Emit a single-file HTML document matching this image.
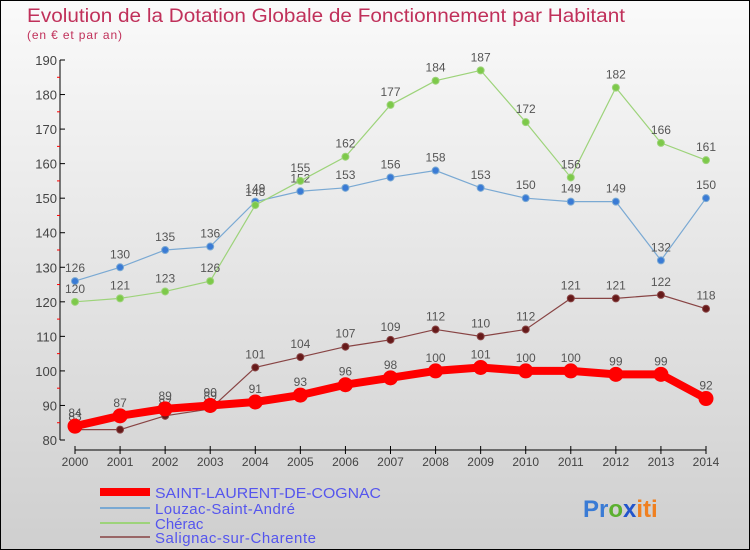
<!DOCTYPE html>
<html><head><meta charset="utf-8"><style>
html,body{margin:0;padding:0}
body{width:750px;height:550px;overflow:hidden;font-family:"Liberation Sans",sans-serif}
#c{position:absolute;left:0;top:0;width:748px;height:548px;border:1px solid #000;background:linear-gradient(#fafafa,#cfcfcf)}
</style></head><body>
<div id="c">
<svg id="s" width="750" height="550" style="position:absolute;left:-1px;top:-1px">
<text x="27" y="22" font-size="19" fill="#c0305a" textLength="598" lengthAdjust="spacingAndGlyphs">Evolution de la Dotation Globale de Fonctionnement par Habitant</text>
<text x="27" y="39" font-size="12" fill="#c0305a" textLength="95">(en € et par an)</text>
<g id="axes"></g><g id="series"></g>
<g>
<rect x="100" y="488" width="50" height="8" fill="#f00"/>
<text x="155" y="498" font-size="15" fill="#5555ee" textLength="226" lengthAdjust="spacingAndGlyphs">SAINT-LAURENT-DE-COGNAC</text>
<line x1="100" y1="508" x2="150" y2="508" stroke="#7aa9d3" stroke-width="2"/>
<text x="155" y="514" font-size="15" fill="#5555ee" textLength="140">Louzac-Saint-André</text>
<line x1="100" y1="523" x2="150" y2="523" stroke="#9dd37a" stroke-width="2"/>
<text x="155" y="529" font-size="15" fill="#5555ee">Chérac</text>
<line x1="100" y1="537" x2="150" y2="537" stroke="#996666" stroke-width="2"/>
<text x="155" y="543" font-size="15" fill="#5555ee" textLength="161">Salignac-sur-Charente</text>
</g>
<text x="583" y="517" font-size="24" font-weight="bold"><tspan fill="#3a7bd5">Pr</tspan><tspan fill="#5bb030">o</tspan><tspan fill="#2255cc">x</tspan><tspan fill="#f08020">iti</tspan></text>
</svg></div>
<script>
const years=[2000,2001,2002,2003,2004,2005,2006,2007,2008,2009,2010,2011,2012,2013,2014];
const saintLaurent=[84,87,89,90,91,93,96,98,100,101,100,100,99,99,92];
const louzac=[126,130,135,136,149,152,153,156,158,153,150,149,149,132,150];
const cherac=[120,121,123,126,148,155,162,177,184,187,172,156,182,166,161];
const salignac=[83,83,87,89,101,104,107,109,112,110,112,121,121,122,118];
const yTicks=[80,90,100,110,120,130,140,150,160,170,180,190];
const NS="http://www.w3.org/2000/svg";
const X=i=>75+i*(706-75)/(years.length-1);
const Y=v=>440-(v-80)*(380/110);
function el(t,a,p){const e=document.createElementNS(NS,t);for(const k in a)e.setAttribute(k,a[k]);p.appendChild(e);return e;}
const ax=document.getElementById('axes');
let l=el('line',{x1:60,y1:60,x2:60,y2:440,stroke:'#000'},ax);


yTicks.forEach(v=>{
 el('line',{x1:60,y1:Y(v),x2:65,y2:Y(v),stroke:'#000'},ax);
 if(v<190)el('line',{x1:57,y1:Y(v+5),x2:60,y2:Y(v+5),stroke:'#f00'},ax);
 const t=el('text',{x:57,y:Y(v)+5,'font-size':13,fill:'#444','text-anchor':'end'},ax);t.textContent=v;
 
 
});
l=el('line',{x1:X(0),y1:450,x2:X(14),y2:450,stroke:'#000'},ax);


years.forEach((yr,i)=>{
 el('line',{x1:X(i),y1:446,x2:X(i),y2:454,stroke:'#000'},ax);
 const t=el('text',{x:X(i),y:466,'font-size':12,fill:'#444','text-anchor':'middle'},ax);t.textContent=yr;
 
 
});
const sg=document.getElementById('series');
function draw(vals,color,dot,w,r,name){
 const g=el('g',{},sg);
 
 
 const p=el('polyline',{points:vals.map((v,i)=>X(i)+','+Y(v)).join(' '),fill:'none',stroke:color,'stroke-width':w},g);
 vals.forEach((v,i)=>{
  const c=el('circle',{cx:X(i),cy:Y(v),r:r,fill:dot,stroke:color,'stroke-width':1},g);
  
  
  const t=el('text',{x:X(i),y:Y(v)-9,'font-size':12,fill:'#555','text-anchor':'middle'},g);t.textContent=v;
  
  
 });
}
draw(louzac,'#7aa9d3','#3a7bd5',1.2,3.5,'louzac');
draw(cherac,'#9dd37a','#7dc94a',1.2,3.5,'cherac');
draw(salignac,'#884444','#661a1a',1.2,3.5,'salignac');
draw(saintLaurent,'#f00','#f00',8,7,'saint-laurent');
</script>
</body></html>
